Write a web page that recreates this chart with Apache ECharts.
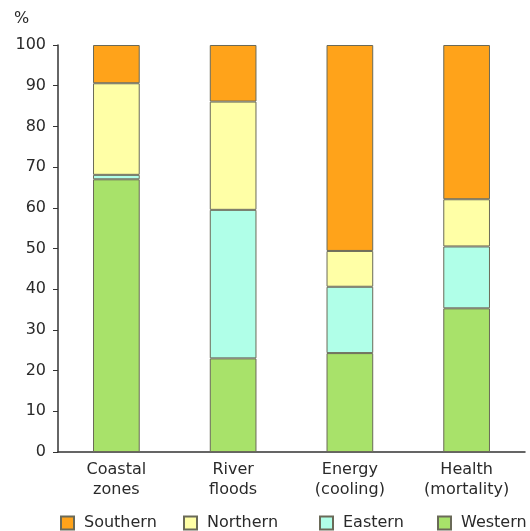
<!DOCTYPE html>
<html>
<head>
<meta charset="utf-8">
<script src="https://cdn.jsdelivr.net/npm/echarts@6/dist/echarts.min.js"></script>
<style>html,body{margin:0;padding:0;background:#fff}#c{width:530px;height:531px}</style>
</head>
<body>
<div id="c"></div>
<script>
var categories = ['Coastal\nzones', 'River\nfloods', 'Energy\n(cooling)', 'Health\n(mortality)'];
var western = [67.0, 23.0, 24.3, 35.3];
var eastern = [1.1, 36.5, 16.3, 15.2];
var northern = [22.5, 26.6, 8.8, 11.6];
var southern = [9.4, 13.9, 50.6, 37.9];
var yTicks = [0, 10, 20, 30, 40, 50, 60, 70, 80, 90, 100];
var legendNames = ['Southern', 'Northern', 'Eastern', 'Western'];

var font = 'DejaVu Sans, Verdana, sans-serif';
var border = '#6a6a58';
var txt = '#2a2a2a';
function s(name, data, color) {
  return {name: name, type: 'bar', stack: 'a', data: data, barWidth: '40%',
    itemStyle: {color: color, borderColor: border, borderWidth: 1}};
}
var legendLefts = [60, 183, 319, 437];
var legends = legendNames.map(function (n, i) {
  return {
    top: 515, left: legendLefts[i], itemWidth: 13, itemHeight: 13, padding: 0,
    data: [n], icon: 'rect',
    textStyle: {fontFamily: font, fontSize: 16, color: txt, padding: [0, 0, 0, 5]}
  };
});
var chart = echarts.init(document.getElementById('c'));
chart.setOption({
  animation: false,
  grid: {left: 58, right: 5, top: 45, bottom: 79},
  graphic: [{type: 'text', left: 14, top: 11, style: {text: '%', font: '16px ' + font, fill: txt}}],
  legend: legends,
  xAxis: {
    type: 'category', data: categories,
    axisLine: {lineStyle: {color: '#333', width: 1.5}},
    axisTick: {length: 5, lineStyle: {color: '#333'}},
    axisLabel: {fontFamily: font, fontSize: 16, color: txt, lineHeight: 20, margin: 8}
  },
  yAxis: {
    type: 'value', min: 0, max: 100, interval: 10,
    axisLine: {show: true, lineStyle: {color: '#333', width: 1.5}},
    axisTick: {show: true, length: 5, lineStyle: {color: '#333'}},
    splitLine: {show: false},
    axisLabel: {fontFamily: font, fontSize: 16, color: txt, margin: 12,
      formatter: function (v) { return yTicks.indexOf(v) >= 0 ? String(v) : ''; }}
  },
  series: [
    s('Western', western, '#a8e26a'),
    s('Eastern', eastern, '#b0ffe8'),
    s('Northern', northern, '#ffffa6'),
    s('Southern', southern, '#ffa31a')
  ]
});
</script>
</body>
</html>
